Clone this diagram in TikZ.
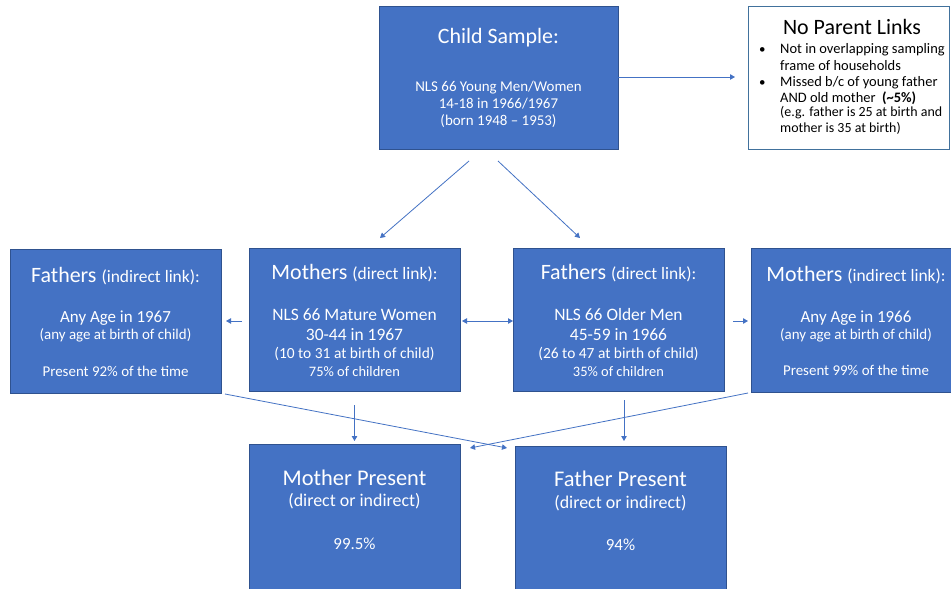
\documentclass[tikz,border=0pt]{standalone}
\usepackage{fontspec}
\setmainfont{Carlito}
\usetikzlibrary{arrows.meta}
\definecolor{boxblue}{HTML}{4472C4}
\definecolor{boxedge}{HTML}{2F528F}
\definecolor{noteedge}{HTML}{41719C}
\definecolor{linkblue}{HTML}{4472C4}
\newcommand{\fs}[1]{\fontsize{#1}{#1}\selectfont}
\tikzset{
  bluebox/.style={draw=boxedge, fill=boxblue, line width=0.9bp},
  notebox/.style={draw=noteedge, fill=white, line width=0.9bp},
  wt/.style={text=white, inner sep=0pt, anchor=base},
  bt/.style={text=black, inner sep=0pt, anchor=base west},
  link/.style={draw=linkblue, line width=0.8bp, -{Triangle[width=5.5bp,length=5bp]}},
  dlink/.style={draw=linkblue, line width=0.8bp, {Triangle[width=5.5bp,length=5bp]}-{Triangle[width=5.5bp,length=5bp]}}
}
\begin{document}
\begin{tikzpicture}[x=1bp,y=-1bp]
\clip (0,0) rectangle (951,589);
\fill[white] (0,0) rectangle (951,589);
% boxes
\draw[bluebox] (379,6) rectangle (618,149);
\draw[notebox] (748,6) rectangle (949,149);
\draw[bluebox] (10,249) rectangle (221,393);
\draw[bluebox] (249,248) rectangle (460,391);
\draw[bluebox] (513,248) rectangle (724,391);
\draw[bluebox] (751,248) rectangle (962,392);
\draw[bluebox] (249,444) rectangle (460,600);
\draw[bluebox] (515,446) rectangle (726,600);

% Child sample text
\node[wt] (cs1) at (498.5,44) {\fs{22}Child Sample:};
\node[wt] (cs2) at (498.5,92) {\fs{15}NLS 66 Young Men/Women};
\node[wt] (cs3) at (498.5,109) {\fs{15}14-18 in 1966/1967};
\node[wt] (cs4) at (498.5,126) {\fs{15}(born 1948 -- 1953)};

% No parent links
\node[text=black, inner sep=0pt, anchor=base] (np0) at (852,35) {\fs{22}No Parent Links};
\node[bt] (npb1) at (759,54) {\fs{13}•};
\node[bt] (np1) at (780,54) {\fs{14.5}Not in overlapping sampling};
\node[bt] (np2) at (780,71) {\fs{14.5}frame of households};
\node[bt] (npb2) at (759,87) {\fs{13}•};
\node[bt] (np3) at (780,87) {\fs{14.5}Missed b/c of young father};
\node[bt] (np4) at (780,103) {\fs{14.5}AND old mother\ \ \textbf{(\textasciitilde5\%)}};
\node[bt] (np5) at (780,117) {\fs{14}(e.g. father is 25 at birth and};
\node[bt] (np6) at (780,133) {\fs{14}mother is 35 at birth)};

% Fathers indirect
\node[wt] (fi1) at (115.5,283) {\fs{22}Fathers \fs{17.5}(indirect link):};
\node[wt] (fi2) at (115.5,322) {\fs{17}Any Age in 1967};
\node[wt] (fi3) at (115.5,339) {\fs{15}(any age at birth of child)};
\node[wt] (fi4) at (115.5,376) {\fs{15}Present 92\% of the time};

% Mothers direct
\node[wt] (md1) at (354.5,280) {\fs{22}Mothers \fs{17.5}(direct link):};
\node[wt] (md2) at (354.5,320) {\fs{17.5}NLS 66 Mature Women};
\node[wt] (md3) at (354.5,340) {\fs{17.5}30-44 in 1967};
\node[wt] (md4) at (354.5,358) {\fs{15.5}(10 to 31 at birth of child)};
\node[wt] (md5) at (354.5,376) {\fs{14.5}75\% of children};

% Fathers direct
\node[wt] (fd1) at (618.5,280) {\fs{22}Fathers \fs{17.5}(direct link):};
\node[wt] (fd2) at (618.5,320) {\fs{17.5}NLS 66 Older Men};
\node[wt] (fd3) at (618.5,340) {\fs{17.5}45-59 in 1966};
\node[wt] (fd4) at (618.5,358) {\fs{15.5}(26 to 47 at birth of child)};
\node[wt] (fd5) at (618.5,376) {\fs{14.5}35\% of children};

% Mothers indirect
\node[wt] (mi1) at (856,282) {\fs{22}Mothers \fs{17.5}(indirect link):};
\node[wt] (mi2) at (856,322) {\fs{17}Any Age in 1966};
\node[wt] (mi3) at (856,339) {\fs{15}(any age at birth of child)};
\node[wt] (mi4) at (856,375) {\fs{15}Present 99\% of the time};

% Mother present
\node[wt] (mp1) at (354.5,485) {\fs{22.5}Mother Present};
\node[wt] (mp2) at (354.5,506) {\fs{18}(direct or indirect)};
\node[wt] (mp3) at (354.5,549) {\fs{17}99.5\%};

% Father present
\node[wt] (fp1) at (620.5,486) {\fs{22.5}Father Present};
\node[wt] (fp2) at (620.5,508) {\fs{18}(direct or indirect)};
\node[wt] (fp3) at (620.5,550) {\fs{17}94\%};

% connector end points
\coordinate (a1s) at (609,77);   \coordinate (a1e) at (735,77);
\coordinate (a2s) at (469,161);  \coordinate (a2e) at (380,238);
\coordinate (a3s) at (498,161);  \coordinate (a3e) at (580,238);
\coordinate (a4s) at (242,321);  \coordinate (a4e) at (226,321);
\coordinate (a5s) at (462,321);  \coordinate (a5e) at (513,321);
\coordinate (a6s) at (733,321);  \coordinate (a6e) at (748,321);
\coordinate (a7s) at (225,394);  \coordinate (a7e) at (507,448);
\coordinate (a8s) at (748,393);  \coordinate (a8e) at (470,448);
\coordinate (a9s) at (354.5,405); \coordinate (a9e) at (354.5,441);
\coordinate (a10s) at (624,400); \coordinate (a10e) at (624,441);

\draw[link] (a1s) -- (a1e);
\draw[link] (a2s) -- (a2e);
\draw[link] (a3s) -- (a3e);
\draw[link] (a4s) -- (a4e);
\draw[dlink] (a5s) -- (a5e);
\draw[link] (a6s) -- (a6e);
\draw[link] (a7s) -- (a7e);
\draw[link] (a8s) -- (a8e);
\draw[link] (a9s) -- (a9e);
\draw[link] (a10s) -- (a10e);
\end{tikzpicture}
\end{document}
